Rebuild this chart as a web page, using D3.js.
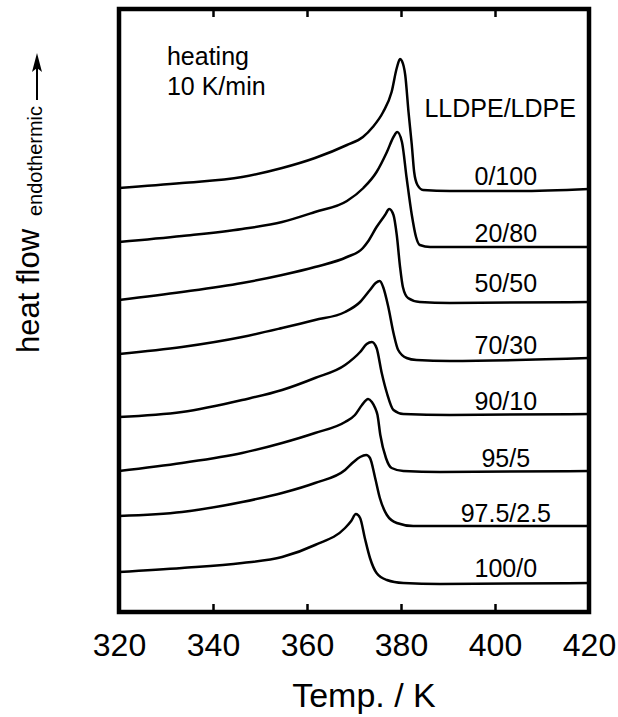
<!DOCTYPE html>
<html>
<head>
<meta charset="utf-8">
<script src="https://cdn.jsdelivr.net/npm/d3@7"></script>
<style>
  body { margin: 0; background: #fff; }
  svg { display: block; }
  text { font-family: "Liberation Sans", Arial, Helvetica, sans-serif; fill: #000; }
</style>
</head>
<body>
<div id="chart"></div>
<script>
// temperature ticks (K)
var xTicks = [320, 340, 360, 380, 400, 420];

// LLDPE/LDPE blend ratios, top trace first
var blends = ["0/100", "20/80", "50/50", "70/30", "90/10", "95/5", "97.5/2.5", "100/0"];

// DSC heating traces: [temperature K, heat flow (arb. units, offset)]
var dsc_0_100 = [[320,42.4],[333.4,42.9],[346.2,43.5],[354.7,44.4],[361.7,45.4],[368.5,46.7],[371.9,47.5],[374.0,48.5],[376.2,50.0],[378.0,52.0],[379.1,54.4],[379.8,55.3],[380.2,55.1],[380.9,53.7],[381.6,50.0],[382.3,46.7],[382.8,44.0],[383.5,42.7],[384.7,42.2],[390.4,42.1],[405,42.1],[420,42.3]];
var dsc_20_80 = [[320,37.0],[333.4,37.6],[346.2,38.3],[354.7,39.0],[361.7,40.0],[368.5,41.1],[372.0,42.4],[374.8,44.0],[377.0,46.0],[378.4,47.5],[379.2,48.0],[380.2,47.0],[381.2,43.4],[382.3,39.7],[383.2,37.5],[384.0,36.7],[386.2,36.5],[420,36.5]];
var dsc_50_50 = [[320,31.2],[333.4,32.0],[346.2,32.9],[354.7,33.7],[361.7,34.5],[368.5,35.5],[371.9,36.4],[372.9,37.0],[374.8,38.5],[376.6,39.7],[377.5,40.3],[378.4,39.7],[379.1,37.7],[379.8,34.5],[380.4,32.5],[381.5,31.4],[384.0,31.0],[390.4,30.9],[420,31.0]];
var dsc_70_30 = [[320,25.8],[333.4,26.5],[346.2,27.5],[354.7,28.4],[361.7,29.2],[368.1,30.0],[371.3,31.0],[373.4,32.2],[374.6,32.9],[375.5,33.1],[376.2,32.5],[377.3,30.5],[378.4,27.9],[379.4,26.2],[381.2,25.4],[383.3,25.2],[390.4,25.1],[420,25.4]];
var dsc_90_10 = [[320,19.5],[333.4,20.0],[346.2,21.2],[354.7,22.2],[361.7,23.4],[368.1,24.7],[371.3,26.0],[372.7,26.8],[373.8,27.0],[374.8,26.4],[375.9,23.9],[377.0,21.9],[378.4,20.2],[380.5,19.8],[390.4,19.7],[420,19.8]];
var dsc_95_5 = [[320,14.1],[333.4,14.9],[346.2,15.9],[354.7,16.9],[361.7,17.9],[368.1,19.0],[370.2,19.7],[371.7,20.7],[373.0,21.3],[373.8,21.0],[374.5,20.4],[375.0,19.7],[375.6,17.7],[376.8,15.4],[378.0,14.4],[380.5,14.1],[388.3,14.0],[420,14.1]];
var dsc_97_5 = [[320,9.6],[333.4,10.0],[346.2,11.0],[354.7,11.9],[361.7,12.9],[368.1,14.2],[369.9,15.0],[371.3,15.5],[372.6,15.7],[373.4,15.4],[374.5,13.4],[375.5,11.4],[377.0,9.7],[379.1,8.9],[382.6,8.6],[420,8.6]];
var dsc_100_0 = [[320,4.0],[333.4,4.4],[346.2,4.9],[354.7,5.5],[361.7,6.7],[368.1,8.4],[369.4,9.1],[370.4,9.8],[371.3,9.4],[372.3,7.4],[373.4,5.4],[374.8,3.9],[377.0,3.2],[380.5,2.9],[388.3,2.8],[420,2.9]];

var traces = [dsc_0_100, dsc_20_80, dsc_50_50, dsc_70_30, dsc_90_10, dsc_95_5, dsc_97_5, dsc_100_0];

// where each blend label sits (heat flow level, temperature)
var labelLevel = [42.7, 37.0, 32.0, 25.8, 20.2, 14.5, 9.0, 3.5];
var labelTemp = 402.3;

var width = 618, height = 717;
var fontFam = '"Liberation Sans", Arial, Helvetica, sans-serif';

var svg = d3.select("#chart").append("svg")
    .attr("width", width)
    .attr("height", height);

var x = d3.scaleLinear().domain([320, 420]).range([119, 589]);
var y = d3.scaleLinear().domain([0, 60.3]).range([612, 9]);

// traces
var line = d3.line()
    .x(function(d) { return x(d[0]); })
    .y(function(d) { return y(d[1]); })
    .curve(d3.curveMonotoneX);

svg.append("g").attr("class", "traces")
  .selectAll("path")
  .data(traces)
  .enter().append("path")
    .attr("d", line)
    .attr("fill", "none")
    .attr("stroke", "#000")
    .attr("stroke-width", 2.5)
    .attr("stroke-linejoin", "round");

// bottom axis, ticks pointing inward
var gx = svg.append("g")
    .attr("transform", "translate(0," + y(0) + ")")
    .call(d3.axisBottom(x).tickValues(xTicks).tickSize(-8).tickSizeOuter(0).tickPadding(21));
gx.select(".domain").remove();
gx.attr("font-family", fontFam).attr("font-size", 32);
gx.selectAll("line").attr("stroke-width", 2.5);

// top axis, ticks only
var gt = svg.append("g")
    .attr("transform", "translate(0," + y(60.3) + ")")
    .call(d3.axisTop(x).tickValues(xTicks).tickSize(-8).tickSizeOuter(0).tickFormat(""));
gt.select(".domain").remove();
gt.selectAll("line").attr("stroke-width", 2.5);

// frame
svg.append("rect")
    .attr("x", x(320))
    .attr("y", y(60.3))
    .attr("width", x(420) - x(320))
    .attr("height", y(0) - y(60.3))
    .attr("fill", "none")
    .attr("stroke", "#000")
    .attr("stroke-width", 4.5);

// blend labels
svg.append("g").selectAll("text")
  .data(blends)
  .enter().append("text")
    .attr("x", x(labelTemp))
    .attr("y", function(d, i) { return y(labelLevel[i]); })
    .attr("text-anchor", "middle")
    .attr("font-size", 25)
    .text(function(d) { return d; });

svg.append("text")
    .attr("x", x(401.1))
    .attr("y", y(49.5))
    .attr("text-anchor", "middle")
    .attr("font-size", 25)
    .text("LLDPE/LDPE");

svg.append("text")
    .attr("x", x(330.2))
    .attr("y", y(54.7))
    .attr("font-size", 25)
    .text("heating");
svg.append("text")
    .attr("x", x(330.2))
    .attr("y", y(51.7))
    .attr("font-size", 25)
    .text("10 K/min");

// axis titles
svg.append("text")
    .attr("x", 364)
    .attr("y", 707)
    .attr("text-anchor", "middle")
    .attr("font-size", 34)
    .text("Temp. / K");

svg.append("text")
    .attr("transform", "translate(39,291) rotate(-90)")
    .attr("text-anchor", "middle")
    .attr("font-size", 31)
    .text("heat flow");

svg.append("text")
    .attr("transform", "translate(42,161) rotate(-90)")
    .attr("text-anchor", "middle")
    .attr("font-size", 20)
    .text("endothermic");

// endothermic arrow
svg.append("line")
    .attr("x1", 37).attr("y1", 100)
    .attr("x2", 37).attr("y2", 68)
    .attr("stroke", "#000")
    .attr("stroke-width", 2);
svg.append("path")
    .attr("d", "M37,53 L32,72 L37,68 L42,72 Z")
    .attr("fill", "#000");
</script>
</body>
</html>
